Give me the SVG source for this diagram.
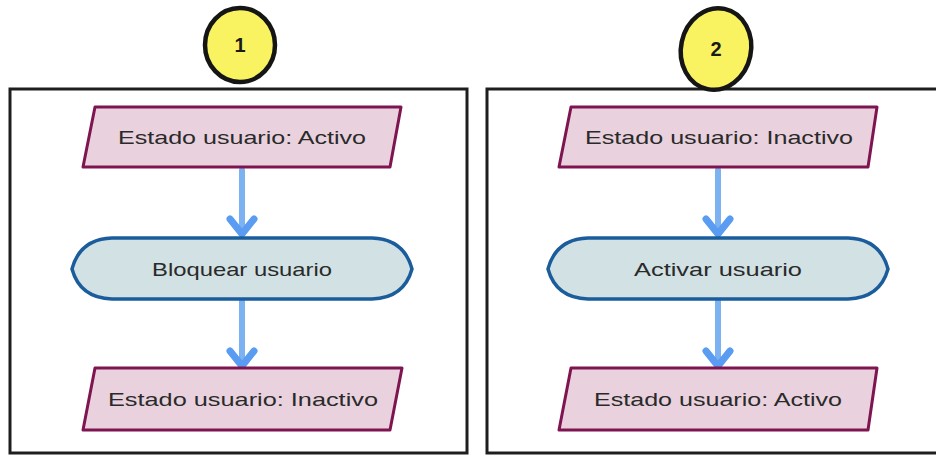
<svg xmlns="http://www.w3.org/2000/svg" width="936" height="458" viewBox="0 0 936 458">
<defs>
<style>
.panel{fill:#ffffff;stroke:#1e1e1e;stroke-width:3}
.io{fill:#e9d2de;stroke:#7e1450;stroke-width:3;stroke-linejoin:round}
.term{fill:#d1e1e4;stroke:#1b5d9c;stroke-width:3.5}
.badge{fill:#f9f362;stroke:#151515;stroke-width:4.5}
.lbl{font-family:"Comic Sans MS","Liberation Sans",sans-serif;font-size:19px;fill:#2a2a2a;text-anchor:middle}
.num{font-family:"Liberation Sans",sans-serif;font-size:20px;font-weight:bold;fill:#1a1a1a;text-anchor:middle}
.edge{stroke:#7cb2f2;stroke-width:6;fill:none;stroke-linecap:round}
.head{stroke:#5a9cf2;stroke-width:7;fill:none;stroke-linecap:round;stroke-linejoin:round}
</style>
</defs>
<rect width="936" height="458" fill="#ffffff"/>
<g id="panel1"><rect class="panel" x="10" y="89" width="457" height="364"/></g>
<g id="panel2"><rect class="panel" x="487" y="89" width="455" height="364"/></g>
<g id="connectors">
<line class="edge" x1="242" y1="170" x2="242" y2="232"/>
<polyline class="head" points="230,219 242,234 254,219"/>
<line class="edge" x1="242" y1="300" x2="242" y2="364"/>
<polyline class="head" points="230,351 242,366 254,351"/>
<line class="edge" x1="718" y1="170" x2="718" y2="232"/>
<polyline class="head" points="706,219 718,234 730,219"/>
<line class="edge" x1="718" y1="300" x2="718" y2="364"/>
<polyline class="head" points="706,351 718,366 730,351"/>
</g>
<g id="badge1"><ellipse class="badge" cx="240" cy="45" rx="35" ry="37"/><text class="num" x="240" y="52">1</text></g>
<g id="badge2"><ellipse class="badge" cx="716" cy="49" rx="35" ry="41" transform="rotate(12 716 49)"/><text class="num" x="716" y="56">2</text></g>
<g id="n1"><polygon class="io" points="95,107 401,107 390,167 83,167"/><text class="lbl" x="242" y="144" textLength="248" lengthAdjust="spacingAndGlyphs">Estado usuario: Activo</text></g>
<g id="n2"><path class="term" d="M72,269 Q80,239 112,238 L372,238 Q404,239 412,269 Q404,298 372,299 L112,299 Q80,298 72,269 Z"/><text class="lbl" x="242" y="276" textLength="180" lengthAdjust="spacingAndGlyphs">Bloquear usuario</text></g>
<g id="n3"><polygon class="io" points="95,368 402,368 390,430 83,430"/><text class="lbl" x="243" y="406" textLength="270" lengthAdjust="spacingAndGlyphs">Estado usuario: Inactivo</text></g>
<g id="n4"><polygon class="io" points="571,107 877,107 868,167 559,167"/><text class="lbl" x="719" y="144" textLength="268" lengthAdjust="spacingAndGlyphs">Estado usuario: Inactivo</text></g>
<g id="n5"><path class="term" d="M548,269 Q556,239 588,238 L848,238 Q880,239 888,269 Q880,298 848,299 L588,299 Q556,298 548,269 Z"/><text class="lbl" x="718" y="276" textLength="168" lengthAdjust="spacingAndGlyphs">Activar usuario</text></g>
<g id="n6"><polygon class="io" points="571,368 877,368 868,430 559,430"/><text class="lbl" x="718" y="406" textLength="248" lengthAdjust="spacingAndGlyphs">Estado usuario: Activo</text></g>
</svg>
